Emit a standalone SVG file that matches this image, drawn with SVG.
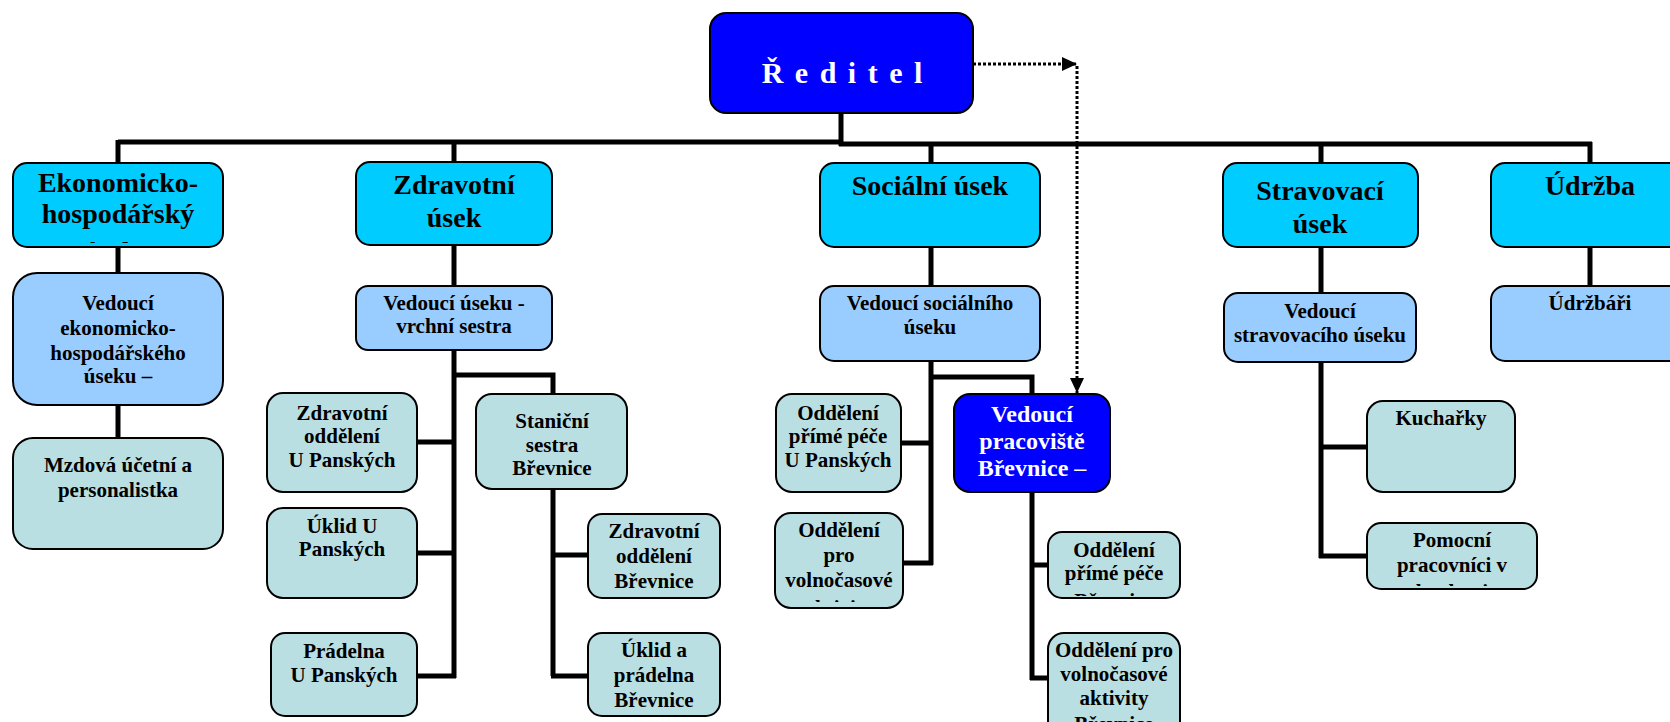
<svg xmlns="http://www.w3.org/2000/svg" width="1670" height="722" viewBox="0 0 1670 722">
<style>
  .box{stroke:#000;stroke-width:2}
  .l1{fill:#00CCFF}
  .l2{fill:#99CCFF}
  .l3{fill:#BADFE2}
  .blue{fill:#0000FF}
  text{font-family:"Liberation Serif","Times New Roman",serif;font-weight:bold;text-anchor:middle;fill:#000}
  .t1{font-size:28px}
  .t2{font-size:21px}
  .tw{fill:#fff}
  .conn{fill:none;stroke:#000;stroke-width:5}
  .dot{fill:none;stroke:#000;stroke-width:3;stroke-dasharray:3 2}
</style>
<defs>
  <marker id="ah" markerUnits="userSpaceOnUse" markerWidth="16" markerHeight="14" refX="15" refY="7" orient="auto">
    <path d="M0,0 L15,7 L0,14 z" fill="#000"/>
  </marker>
  <clipPath id="c-ekon"><rect x="13" y="163" width="210" height="80"/></clipPath>
  <clipPath id="c-volno"><rect x="775" y="513" width="128" height="89"/></clipPath>
  <clipPath id="c-primeb"><rect x="1048" y="532" width="132" height="64"/></clipPath>
  <clipPath id="c-pomoc"><rect x="1367" y="523" width="170" height="63"/></clipPath>
</defs>
<rect width="1670" height="722" fill="#fff"/>

<g id="connectors">
  <path class="conn" d="M841,113 V146"/>
  <path class="conn" d="M118,142 H843"/>
  <path class="conn" d="M839,144 H1592"/>
  <path class="conn" d="M118,140 V163 M118,247 V273 M118,405 V438"/>
  <path class="conn" d="M454,140 V286 M454,350 V678"/>
  <path class="conn" d="M417,442 H454 M417,553 H454 M417,676 H456"/>
  <path class="conn" d="M454,375 H553 V394"/>
  <path class="conn" d="M553,488 V676 M551,676 H588 M553,555 H588"/>
  <path class="conn" d="M931,144 V286 M931,361 V565"/>
  <path class="conn" d="M901,443 H931 M901,563 H933"/>
  <path class="conn" d="M931,377 H1032 V394"/>
  <path class="conn" d="M1032,492 V680 M1030,678 H1048 M1032,565 H1048"/>
  <path class="conn" d="M1321,144 V293 M1321,362 V558"/>
  <path class="conn" d="M1321,447 H1367 M1319,556 H1367"/>
  <path class="conn" d="M1590,142 V286"/>
  <path class="dot" d="M973,64 H1077" marker-end="url(#ah)"/>
  <path class="dot" d="M1077,66 V393" marker-end="url(#ah)"/>
</g>

<g id="reditel">
  <rect class="box blue" x="710" y="13" width="263" height="100" rx="16"/>
  <text class="tw" x="843" y="83" style="font-size:30px;letter-spacing:2px">Ř e d i t e l</text>
</g>

<g id="ekonomicko">
  <rect class="box l1" x="13" y="163" width="210" height="84" rx="14"/>
  <g clip-path="url(#c-ekon)">
    <text class="t1" x="118" y="192">Ekonomicko-</text>
    <text class="t1" x="118" y="223">hospodářský</text>
    <text class="t1" x="118" y="261">úseku</text>
  </g>
</g>
<g id="zdravotni">
  <rect class="box l1" x="356" y="162" width="196" height="83" rx="14"/>
  <text class="t1" x="454" y="194">Zdravotní</text>
  <text class="t1" x="454" y="227">úsek</text>
</g>
<g id="socialni">
  <rect class="box l1" x="820" y="163" width="220" height="84" rx="14"/>
  <text class="t1" x="930" y="195">Sociální úsek</text>
</g>
<g id="stravovaci">
  <rect class="box l1" x="1223" y="163" width="195" height="84" rx="14"/>
  <text class="t1" x="1320" y="200">Stravovací</text>
  <text class="t1" x="1320" y="233">úsek</text>
</g>
<g id="udrzba">
  <rect class="box l1" x="1491" y="163" width="198" height="84" rx="14"/>
  <text class="t1" x="1590" y="195">Údržba</text>
</g>

<g id="ved-ekon">
  <rect class="box l2" x="13" y="273" width="210" height="132" rx="24"/>
  <text class="t2" x="118" y="310">Vedoucí</text>
  <text class="t2" x="118" y="335">ekonomicko-</text>
  <text class="t2" x="118" y="360">hospodářského</text>
  <text class="t2" x="118" y="383">úseku –</text>
</g>
<g id="mzdova">
  <rect class="box l3" x="13" y="438" width="210" height="111" rx="20"/>
  <text class="t2" x="118" y="472">Mzdová účetní a</text>
  <text class="t2" x="118" y="497">personalistka</text>
</g>

<g id="ved-zdrav">
  <rect class="box l2" x="356" y="286" width="196" height="64" rx="12"/>
  <text class="t2" x="454" y="310">Vedoucí úseku -</text>
  <text class="t2" x="454" y="333">vrchní sestra</text>
</g>
<g id="zdrav-odd-up">
  <rect class="box l3" x="267" y="393" width="150" height="99" rx="16"/>
  <text class="t2" x="342" y="420">Zdravotní</text>
  <text class="t2" x="342" y="443">oddělení</text>
  <text class="t2" x="342" y="467">U Panských</text>
</g>
<g id="uklid-up">
  <rect class="box l3" x="267" y="508" width="150" height="90" rx="16"/>
  <text class="t2" x="342" y="533">Úklid U</text>
  <text class="t2" x="342" y="556">Panských</text>
</g>
<g id="pradelna-up">
  <rect class="box l3" x="271" y="633" width="146" height="83" rx="14"/>
  <text class="t2" x="344" y="658">Prádelna</text>
  <text class="t2" x="344" y="682">U Panských</text>
</g>
<g id="stanicni">
  <rect class="box l3" x="476" y="394" width="151" height="95" rx="16"/>
  <text class="t2" x="552" y="428">Staniční</text>
  <text class="t2" x="552" y="452">sestra</text>
  <text class="t2" x="552" y="475">Břevnice</text>
</g>
<g id="zdrav-odd-br">
  <rect class="box l3" x="588" y="514" width="132" height="84" rx="14"/>
  <text class="t2" x="654" y="538">Zdravotní</text>
  <text class="t2" x="654" y="563">oddělení</text>
  <text class="t2" x="654" y="588">Břevnice</text>
</g>
<g id="uklid-br">
  <rect class="box l3" x="588" y="633" width="132" height="83" rx="14"/>
  <text class="t2" x="654" y="657">Úklid a</text>
  <text class="t2" x="654" y="682">prádelna</text>
  <text class="t2" x="654" y="707">Břevnice</text>
</g>

<g id="ved-soc">
  <rect class="box l2" x="820" y="286" width="220" height="75" rx="14"/>
  <text class="t2" x="930" y="310">Vedoucí sociálního</text>
  <text class="t2" x="930" y="334">úseku</text>
</g>
<g id="odd-prime-up">
  <rect class="box l3" x="776" y="394" width="125" height="98" rx="16"/>
  <text class="t2" x="838" y="420">Oddělení</text>
  <text class="t2" x="838" y="443">přímé péče</text>
  <text class="t2" x="838" y="467">U Panských</text>
</g>
<g id="odd-volno-up">
  <rect class="box l3" x="775" y="513" width="128" height="95" rx="16"/>
  <g clip-path="url(#c-volno)">
    <text class="t2" x="839" y="537">Oddělení</text>
    <text class="t2" x="839" y="562">pro</text>
    <text class="t2" x="839" y="587">volnočasové</text>
    <text class="t2" x="839" y="615">aktivity</text>
  </g>
</g>
<g id="ved-prac-br">
  <rect class="box blue" x="954" y="394" width="156" height="98" rx="16"/>
  <text class="tw" x="1032" y="422" style="font-size:24px">Vedoucí</text>
  <text class="tw" x="1032" y="449" style="font-size:24px">pracoviště</text>
  <text class="tw" x="1032" y="476" style="font-size:24px">Břevnice –</text>
</g>
<g id="odd-prime-br">
  <rect class="box l3" x="1048" y="532" width="132" height="66" rx="14"/>
  <g clip-path="url(#c-primeb)">
    <text class="t2" x="1114" y="557">Oddělení</text>
    <text class="t2" x="1114" y="580">přímé péče</text>
    <text class="t2" x="1114" y="608">Břevnice</text>
  </g>
</g>
<g id="odd-volno-br">
  <rect class="box l3" x="1048" y="633" width="132" height="110" rx="16"/>
  <text class="t2" x="1114" y="657">Oddělení pro</text>
  <text class="t2" x="1114" y="681">volnočasové</text>
  <text class="t2" x="1114" y="705">aktivity</text>
  <text class="t2" x="1114" y="731">Břevnice</text>
</g>

<g id="ved-strav">
  <rect class="box l2" x="1224" y="293" width="192" height="69" rx="14"/>
  <text class="t2" x="1320" y="318">Vedoucí</text>
  <text class="t2" x="1320" y="342">stravovacího úseku</text>
</g>
<g id="kucharky">
  <rect class="box l3" x="1367" y="401" width="148" height="91" rx="16"/>
  <text class="t2" x="1441" y="425">Kuchařky</text>
</g>
<g id="pomocni">
  <rect class="box l3" x="1367" y="523" width="170" height="66" rx="14"/>
  <g clip-path="url(#c-pomoc)">
    <text class="t2" x="1452" y="547">Pomocní</text>
    <text class="t2" x="1452" y="572">pracovníci v</text>
    <text class="t2" x="1452" y="599">kuchyni</text>
  </g>
</g>

<g id="udrzbari">
  <rect class="box l2" x="1491" y="286" width="198" height="75" rx="14"/>
  <text class="t2" x="1590" y="310">Údržbáři</text>
</g>
</svg>
